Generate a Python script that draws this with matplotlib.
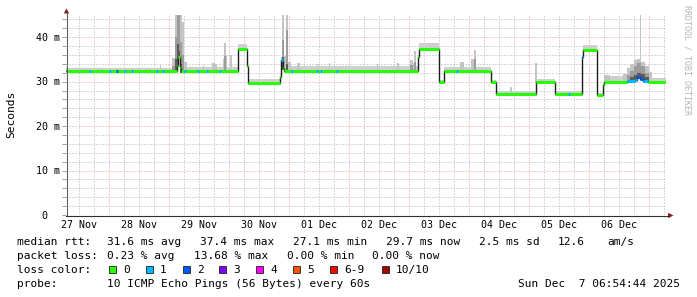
import numpy as np
import matplotlib
matplotlib.use('Agg')
import matplotlib.pyplot as plt
import matplotlib.transforms as mtrans
from matplotlib.lines import Line2D
from matplotlib.patches import Polygon, Rectangle

# ---------------- data (hours since 27 Nov 00:00) ----------------
T_START, T_END = 6.91, 246.91

# median rtt step segments: start hour, value (ms), loss count
med_t = [6.9, 51.5, 51.9, 52.5, 53.0, 75.6, 75.9, 79.5, 79.8, 92.6, 93.0, 93.6,
         94.0, 147.9, 148.3, 156.3, 158.2, 176.9, 178.9, 194.8, 202.4, 213.4,
         213.8, 219.4, 221.6, 222.0, 231.4, 234.5, 235.4, 236.4, 237.9, 239.9]
med_v = [32.4, 33.6, 35.6, 33.2, 32.3, 33.8, 37.4, 33.5, 29.7, 31.1, 34.8, 33.0,
         32.4, 35.5, 37.4, 29.9, 32.4, 29.9, 27.2, 29.9, 27.2, 35.5,
         37.1, 27.0, 29.2, 29.9, 30.1, 30.4, 31.0, 30.6, 30.2, 29.9]
med_loss = [0, 0, 0, 0, 0, 0, 0, 0, 0, 0, 1, 0,
            0, 0, 0, 0, 0, 0, 0, 0, 0, 1,
            0, 0, 0, 0, 1, 1, 2, 2, 1, 0]
# top of the light smoke band per segment (ms)
smoke_top = [33.1, 35.0, 36.0, 33.5, 33.3, 34.0, 38.4, 34.0, 30.7, 31.5, 35.5, 34.0,
             33.5, 36.0, 38.7, 30.4, 33.3, 30.3, 28.0, 30.6, 27.9, 36.0,
             38.2, 27.5, 29.8, 31.2, 32.5, 33.5, 34.0, 33.5, 32.5, 30.8]

# smoke spikes: start hour, end hour, light / medium / dark layer tops (ms, 0 = none)
spk_t0 = [44.5, 49.5, 50.6, 51.3, 52.0, 52.7, 53.4, 54.3, 61.7, 65.4, 66.4, 69.6,
          70.2, 70.9, 72.7, 93.2, 94.0, 95.1, 95.9, 99.4, 107.4, 112.0, 131.4,
          139.4, 144.7, 145.7, 146.2, 164.7, 169.0, 170.0, 184.7, 194.6, 222.0,
          229.9, 231.4, 232.7, 234.0, 235.4, 236.6, 237.1, 238.7, 240.0]
spk_t1 = [45.1, 50.6, 51.3, 52.0, 52.7, 53.4, 54.3, 55.2, 62.3, 66.4, 67.4, 70.2,
          70.9, 71.5, 73.4, 94.0, 95.1, 95.9, 97.0, 100.7, 107.9, 112.7, 131.9,
          140.0, 145.7, 146.2, 147.0, 166.0, 170.0, 171.1, 185.4, 195.2, 224.7,
          231.4, 232.7, 234.0, 235.4, 236.6, 237.1, 238.7, 240.0, 241.5]
spk_light = [33.8, 35.3, 45.0, 45.0, 45.0, 45.0, 43.5, 34.5, 33.8, 34.2, 33.9, 35.0,
             38.7, 36.0, 36.0, 45.0, 35.7, 45.0, 34.5, 34.2, 34.0, 34.2, 34.0,
             34.2, 34.9, 34.2, 36.8, 34.5, 35.0, 37.2, 28.8, 34.2, 31.6,
             31.8, 33.0, 34.0, 34.9, 35.0, 45.0, 34.5, 33.5, 32.2]
spk_mid = [0, 33.5, 40.0, 45.0, 45.0, 39.0, 36.0, 0, 0, 0, 0, 0,
           35.7, 0, 0, 39.4, 0, 41.7, 0, 0, 0, 0, 0,
           0, 33.8, 0, 34.5, 0, 0, 35.0, 0, 0, 0,
           0, 31.5, 32.5, 33.5, 34.2, 34.2, 33.5, 32.0, 0]
spk_dark = [0, 0, 35.0, 38.5, 37.0, 34.0, 0, 0, 0, 0, 0, 0,
            0, 0, 0, 35.5, 0, 34.0, 0, 0, 0, 0, 0,
            0, 0, 0, 0, 0, 0, 0, 0, 0, 0,
            0, 0, 31.0, 31.5, 32.0, 32.0, 31.8, 31.0, 0]

# single-step loss marks on the median (hour, lost pings)
mark_t = [16.7, 24.7, 27.5, 30.7, 33.5, 43.5, 45.9, 54.7, 59.9, 63.5, 68.7,
          97.4, 107.4, 109.1, 115.4, 163.4, 208.0]
mark_n = [1, 1, 2, 1, 1, 1, 1, 1, 1, 1, 1,
          1, 1, 1, 1, 1, 1]

day_hours = [12, 36, 60, 84, 108, 132, 156, 180, 204, 228]
day_labels = ['27 Nov', '28 Nov', '29 Nov', '30 Nov', '01 Dec', '02 Dec',
              '03 Dec', '04 Dec', '05 Dec', '06 Dec']
y_ticks = [0, 10, 20, 30, 40]
y_tick_labels = ['0', '10 m', '20 m', '30 m', '40 m']

loss_names = ['0', '1', '2', '3', '4', '5', '6-9', '10/10']
loss_colors = ['#26ff00', '#00b8ff', '#0059ff', '#7e00ff', '#ff00ff',
               '#ff5500', '#ff0000', '#a10000']

legend_rows = [
    [(16.7, 'median rtt:'), (107.3, '31.6 ms avg'), (200.0, '37.4 ms max'),
     (293.3, '27.1 ms min'), (386.0, '29.7 ms now'), (479.0, '2.5 ms sd'),
     (558.0, '12.6'), (607.5, 'am/s')],
    [(16.7, 'packet loss:'), (107.3, '0.23 % avg'), (194.0, '13.68 % max'),
     (286.7, '0.00 % min'), (372.2, '0.00 % now')],
]
probe_text = '10 ICMP Echo Pings (56 Bytes) every 60s'
date_text = 'Sun Dec  7 06:54:44 2025'

# ---------------- figure ----------------
W, H = 697, 297
fig = plt.figure(figsize=(W / 100, H / 100), dpi=100)
fig.patch.set_facecolor('white')
MONO = 'DejaVu Sans Mono'


def fx(x):
    return x / W


def fy(y):
    return 1 - y / H


AX_L, AX_T, AX_W, AX_H = 66, 15, 600, 200
ax = fig.add_axes([fx(AX_L), fy(AX_T + AX_H), AX_W / W, AX_H / H])
ax.set_facecolor('white')
ax.set_xlim(T_START, T_END)
ax.set_ylim(0, 45)
for s in ax.spines.values():
    s.set_visible(False)
ax.set_xticks([])
ax.set_yticks(np.arange(0, 45, 2))
ax.set_yticklabels([])
ax.tick_params(axis='y', length=3, width=0.7, color='#a0a0a0', direction='out')

# grid
minor_c, major_c = '#b0b0b0', '#ec9a9a'
for h in np.arange(12, 247, 6):
    ax.axvline(h, color=major_c if h % 24 == 0 else minor_c, lw=0.72,
               ls=(0, (1, 2)), zorder=0)
for v in np.arange(2, 45, 2):
    ax.axhline(v, color=major_c if v % 10 == 0 else minor_c, lw=0.72,
               ls=(0, (1, 2)), zorder=0)

mt = np.array(med_t)
mv = np.array(med_v)
ends = np.append(mt[1:], T_END)
xs = np.append(mt, T_END)

# base smoke
lo = np.append(mv - 0.3, mv[-1] - 0.3)
hi = np.append(np.array(smoke_top), smoke_top[-1])
ax.fill_between(xs, lo, hi, step='post', color='#cfcfcf', lw=0, zorder=1)


def median_at(t):
    idx = np.searchsorted(mt, np.asarray(t), side='right') - 1
    return mv[np.clip(idx, 0, len(mv) - 1)]


s0 = np.array(spk_t0)
s1 = np.array(spk_t1)
base = median_at((s0 + s1) / 2) - 0.3
for tops, col, z in [(spk_light, '#c4c4c4', 2), (spk_mid, '#9c9c9c', 3),
                     (spk_dark, '#5a5a5a', 4)]:
    tops = np.array(tops, dtype=float)
    hgt = np.where(tops > 0, np.maximum(tops - base, 0), 0)
    ax.bar(s0, hgt, width=s1 - s0, bottom=base, align='edge', color=col,
           lw=0, zorder=z)

# median: dark step line, then loss-coloured horizontal parts
ax.step(xs, np.append(mv, mv[-1]), where='post', color='#1c1c1c', lw=1.0,
        zorder=5)
ax.hlines(mv, mt, ends, colors=[loss_colors[l] for l in med_loss], lw=2.2,
          zorder=6, capstyle='butt')
mk = np.array(mark_t)
ax.hlines(median_at(mk), mk - 0.4, mk + 0.4,
          colors=[loss_colors[n] for n in mark_n], lw=2.2, zorder=7,
          capstyle='butt')

# axes lines and arrows
axis_c = '#303030'
arrow_c = '#8b1a1a'
fig.add_artist(Line2D([fx(66.5), fx(66.5)], [fy(215.5), fy(12)], color='#606060',
                      lw=0.8))
fig.add_artist(Line2D([fx(66), fx(669)], [fy(215.5), fy(215.5)], color=axis_c,
                      lw=0.8))
fig.add_artist(Polygon([(fx(63.8), fy(13.5)), (fx(69.2), fy(13.5)), (fx(66.5), fy(8.5))],
                       closed=True, color=arrow_c, lw=0))
fig.add_artist(Polygon([(fx(668), fy(212.8)), (fx(668), fy(218.2)), (fx(673.5), fy(215.5))],
                       closed=True, color=arrow_c, lw=0))

# tick labels
xl_trans = mtrans.blended_transform_factory(ax.transData, fig.transFigure)
for h, lab in zip(day_hours, day_labels):
    ax.text(h, fy(228.3), lab, transform=xl_trans, ha='center', va='baseline',
            family=MONO, size=7.2, color='#000000')
yl_base = mtrans.blended_transform_factory(fig.transFigure, ax.transData)
yl_trans = mtrans.offset_copy(yl_base, fig=fig, x=0, y=-3.6, units='dots')
for v, lab in zip(y_ticks, y_tick_labels):
    xr = 60.0 if lab != '0' else 47.8
    ax.text(fx(xr), v, lab, transform=yl_trans, ha='right', va='baseline',
            family=MONO, size=7.2, color='#000000', clip_on=False)

fig.text(fx(11), fy(114), 'Seconds', rotation=90, ha='center', va='center',
         family=MONO, size=8.1, color='#000000')
fig.text(fx(687), fy(60), 'RRDTOOL / TOBI OETIKER', rotation=270, ha='center',
         va='center', family=MONO, size=6.0, color='#b4b4b4')

# legend
LS = 8.05
baselines = [245.3, 259.3, 273.3, 287.0]
for row, bl in zip(legend_rows, baselines[:2]):
    for x, s in row:
        fig.text(fx(x), fy(bl), s, ha='left', va='baseline', family=MONO,
                 size=LS, color='#000000')

fig.text(fx(16.7), fy(baselines[2]), 'loss color:', ha='left', va='baseline',
         family=MONO, size=LS, color='#000000')
box_x = [109.0, 145.7, 182.7, 219.3, 256.0, 293.3, 330.0, 381.7]
for bx, name, col in zip(box_x, loss_names, loss_colors):
    fig.add_artist(Rectangle((fx(bx), fy(272.8)), 7 / W, 7 / H, facecolor=col,
                             edgecolor='#202020', lw=0.6,
                             transform=fig.transFigure))
    fig.text(fx(bx + 14.3), fy(baselines[2]), name, ha='left', va='baseline',
             family=MONO, size=LS, color='#000000')

fig.text(fx(16.7), fy(baselines[3]), 'probe:', ha='left', va='baseline',
         family=MONO, size=LS, color='#000000')
fig.text(fx(107.3), fy(baselines[3]), probe_text, ha='left', va='baseline',
         family=MONO, size=LS, color='#000000')
fig.text(fx(680.5), fy(baselines[3]), date_text, ha='right', va='baseline',
         family=MONO, size=LS, color='#000000')

fig.savefig('out.png', dpi=100, facecolor='white')
